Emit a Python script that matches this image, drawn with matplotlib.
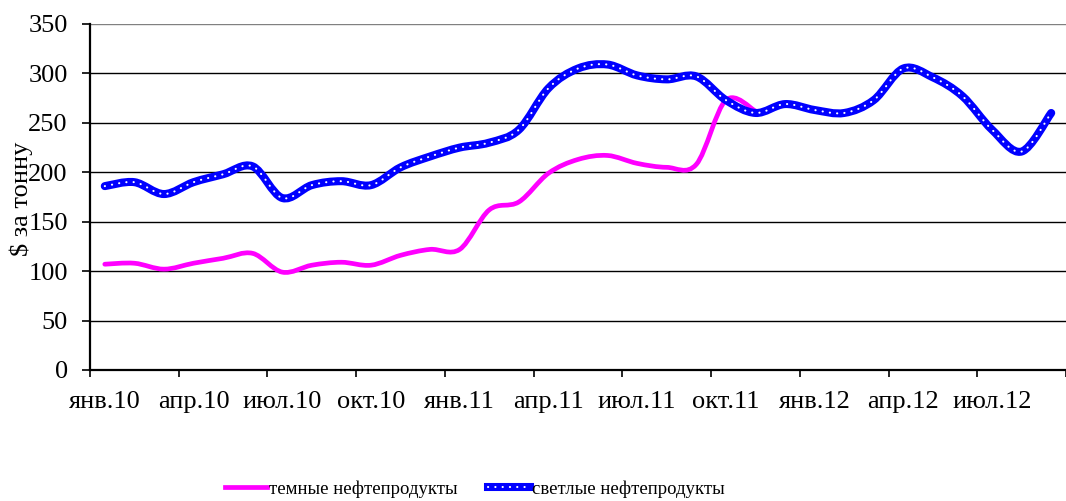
import matplotlib
matplotlib.use('Agg')
import matplotlib.pyplot as plt
from matplotlib.path import Path
from matplotlib.patches import PathPatch
from matplotlib.lines import Line2D
import numpy as np

plt.rcParams['font.family'] = ['Liberation Serif', 'DejaVu Serif']

# monthly values, янв.10 onwards
dark = [107, 108, 102, 108, 113, 118, 99, 106, 109, 106, 116, 122,
        122, 162, 170, 199, 213, 217, 209, 205, 208, 273, 262]
light = [186, 190, 178, 190, 198, 206, 174, 187, 191, 187, 205, 216,
         225, 230, 243, 285, 305, 309, 298, 294, 297, 273, 260, 269,
         263, 260, 273, 305, 296, 277, 243, 221, 260]
tick_labels = ['янв.10', 'апр.10', 'июл.10', 'окт.10', 'янв.11', 'апр.11',
               'июл.11', 'окт.11', 'янв.12', 'апр.12', 'июл.12']
names = ['темные нефтепродукты', 'светлые нефтепродукты']


def smooth_path(vals):
    # Excel-like smoothed line: cubic bezier segments through the points
    x = np.arange(len(vals)) + 0.5
    y = np.asarray(vals, float)
    pts = np.column_stack([x, y])
    verts = [pts[0]]
    codes = [Path.MOVETO]
    n = len(pts)
    for i in range(n - 1):
        p0 = pts[i - 1] if i > 0 else pts[i]
        p1 = pts[i]
        p2 = pts[i + 1]
        p3 = pts[i + 2] if i + 2 < n else pts[i + 1]
        c1 = p1 + (p2 - p0) / 6.0
        c2 = p2 - (p3 - p1) / 6.0
        verts += [c1, c2, p2]
        codes += [Path.CURVE4] * 3
    return Path(verts, codes)


W, H = 1066, 501
fig = plt.figure(figsize=(W / 100, H / 100), dpi=100)
x0, x1 = 90, 1066
y0, y1 = 370, 24
ax = fig.add_axes([x0 / W, 1 - y0 / H, (x1 - x0) / W, (y0 - y1) / H])

month_px = 29.87
ax.set_xlim(0, (x1 - x0) / month_px)
ax.set_ylim(0, 350)

for v in range(50, 351, 50):
    ax.axhline(v, color='black' if v < 350 else '#808080', lw=1.0, zorder=1)

blue_lw = 5.8
dots = (0, (0.1, 3.4))
p_dark = smooth_path(dark)
ax.add_patch(PathPatch(p_dark, fill=False, edgecolor='#FF00FF', lw=3.4,
                       capstyle='round', joinstyle='round', zorder=3))
p_light = smooth_path(light)
ax.add_patch(PathPatch(p_light, fill=False, edgecolor='#0000FF', lw=blue_lw,
                       capstyle='round', joinstyle='round', zorder=4))
ax.add_patch(PathPatch(p_light, fill=False, edgecolor='white', lw=1.5,
                       linestyle=dots, capstyle='round', zorder=5))

ax.spines['top'].set_visible(False)
ax.spines['right'].set_visible(False)
ax.spines['left'].set_linewidth(1.6)
ax.spines['bottom'].set_linewidth(1.6)

ax.set_yticks(range(0, 351, 50))
ax.tick_params(axis='y', length=6, width=1.2, pad=10, labelsize=19)
ax.set_xticks(np.arange(0, 34, 3))
ax.set_xticklabels([])
ax.tick_params(axis='x', which='major', length=5, width=1.2)
ax.set_xticks(np.arange(len(tick_labels)) * 3 + 0.5, minor=True)
ax.set_xticklabels(tick_labels, minor=True)
ax.tick_params(axis='x', which='minor', length=0, pad=15, labelsize=19)

fig.text(21 / W, 1 - 199 / H, '$ за тонну', rotation=90, ha='center',
         va='center', fontsize=19)

h1 = Line2D([], [], color='#FF00FF', lw=3.4)
h2a = Line2D([], [], color='#0000FF', lw=blue_lw)
h2b = Line2D([], [], color='white', lw=1.5, linestyle=dots,
             dash_capstyle='round')
fig.legend([h1, (h2a, h2b)], names, loc='center',
           bbox_to_anchor=(475 / W, 1 - 489 / H), ncol=2, frameon=False,
           fontsize=13.5, handlelength=2.25, handletextpad=0.1,
           columnspacing=1.6)

fig.savefig('out.png', dpi=100)
